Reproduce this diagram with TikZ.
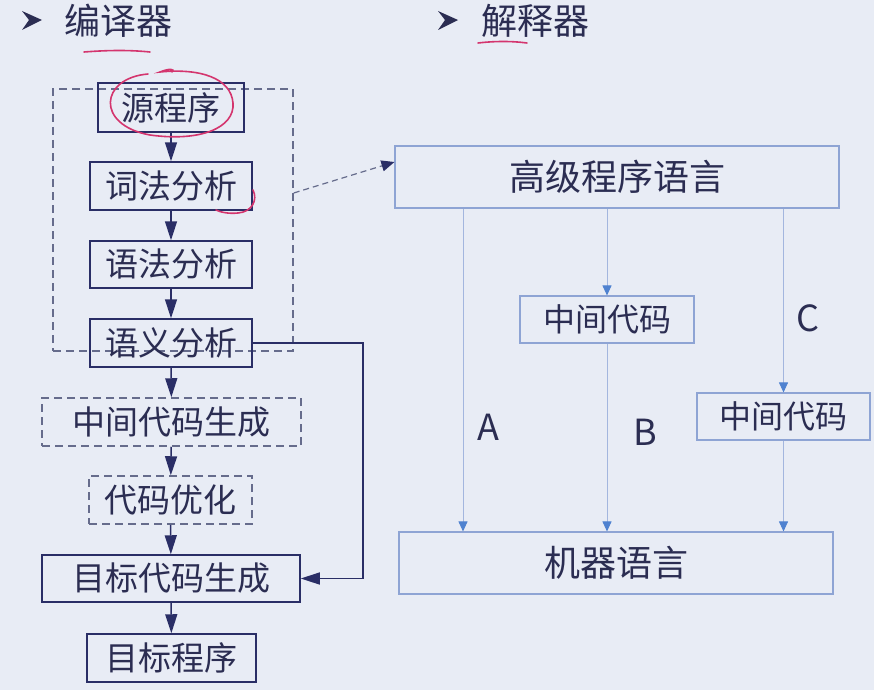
\documentclass[tikz,border=0pt]{standalone}
\usepackage{fontspec}
\setmainfont{Noto Sans CJK SC}
\usetikzlibrary{arrows.meta,calc}
\definecolor{bg}{HTML}{E8ECF5}
\definecolor{navy}{HTML}{2A2E66}
\definecolor{txt}{HTML}{2B2D52}
\definecolor{lbox}{HTML}{8EA4D4}
\definecolor{lline}{HTML}{A3B6DE}
\definecolor{ltip}{HTML}{4F82D0}
\definecolor{dgray}{HTML}{666C8C}
\definecolor{pen}{HTML}{D4356E}
\tikzset{
  navytip/.tip={Triangle[length=19pt,width=12pt]},
  bluetip/.tip={Triangle[length=10pt,width=9pt]}
}
\begin{document}
\begin{tikzpicture}[x=1pt,y=-1pt,
  lbx/.style={draw=navy,line width=1.5pt,text=txt,inner sep=0pt,font=\fontsize{33}{36}\selectfont},
  dbx/.style={lbx,draw=dgray,dash pattern=on 8pt off 5pt},
  rbx/.style={draw=lbox,line width=1.1pt,text=txt,inner sep=0pt},
  larr/.style={draw=navy,fill=navy,line width=1.5pt,-navytip},
  rarr/.style={draw=lline,line width=0.9pt,-{bluetip[fill=ltip,color=ltip]}},
  hdr/.style={text=txt,font=\fontsize{36}{40}\selectfont,inner sep=0pt},
  lbl/.style={text=txt,font=\fontsize{36}{40}\selectfont,inner sep=0pt},
  redpen/.style={draw=pen,line width=1.6pt,line cap=round}]
\fill[bg] (0,0) rectangle (874,690);
\useasboundingbox (0,0) rectangle (874,690);

% headers
\node[hdr,anchor=west] (h1) at (64,21) {编译器};
\node[hdr,anchor=west] (h2) at (481,21) {解释器};
\fill[txt] (22,11) -- (42,20) -- (22,30) -- (29,20) -- cycle;
\fill[txt] (438,11) -- (458,20) -- (438,30) -- (445,20) -- cycle;

% group
\node[draw=dgray,line width=1.4pt,dash pattern=on 8pt off 5pt,minimum width=240pt,minimum height=262pt,inner sep=0pt] (grp) at (173,220) {};

% left chain
\node[lbx,minimum width=146pt,minimum height=49pt] (src) at (171,107.5) {源程序};
\node[lbx,minimum width=162pt,minimum height=48pt] (lex) at (171,186) {词法分析};
\node[lbx,minimum width=162pt,minimum height=47pt] (syn) at (171,264.5) {语法分析};
\node[lbx,minimum width=162pt,minimum height=48pt] (sem) at (171,343) {语义分析};
\node[dbx,minimum width=259pt,minimum height=48pt] (mid) at (171.5,422) {中间代码生成};
\node[dbx,minimum width=163pt,minimum height=48pt] (opt) at (170.5,500) {代码优化};
\node[lbx,minimum width=258pt,minimum height=47pt] (tgt) at (171,578.5) {目标代码生成};
\node[lbx,minimum width=169pt,minimum height=48pt] (prog) at (171.5,658) {目标程序};

\draw[larr] (src) -- (lex);
\draw[larr] (lex) -- (syn);
\draw[larr] (syn) -- (sem);
\draw[larr] (sem) -- (mid);
\draw[larr] (mid) -- (opt);
\draw[larr] (opt) -- (tgt);
\draw[larr] (tgt) -- (prog);
\coordinate (cr) at (363,0);
\draw[draw=navy,line width=1.5pt,-navytip] (sem.east) -- (cr |- sem.east) -- (cr |- tgt.east) -- (tgt.east);

% right side
\node[rbx,minimum width=444pt,minimum height=62pt,font=\fontsize{36}{40}\selectfont] (hll) at (617,177) {高级程序语言};
\node[rbx,minimum width=174pt,minimum height=47pt,font=\fontsize{32}{36}\selectfont] (im1) at (607,319.5) {中间代码};
\node[rbx,minimum width=173pt,minimum height=47pt,font=\fontsize{32}{36}\selectfont] (im2) at (783.5,416.5) {中间代码};
\node[rbx,minimum width=434pt,minimum height=62pt,font=\fontsize{36}{40}\selectfont] (ml) at (616,563) {机器语言};

\coordinate (xa) at (463,0);
\draw[rarr] (xa |- hll.south) -- (xa |- ml.north);
\draw[rarr] (im1 |- hll.south) -- (im1.north);
\draw[rarr] (im1.south) -- (im1 |- ml.north);
\draw[rarr] (im2 |- hll.south) -- (im2.north);
\draw[rarr] (im2.south) -- (im2 |- ml.north);

\node[lbl] (la) at (488,427) {A};
\node[lbl] (lb) at (645,432) {B};
\node[lbl] (lc) at (808,318) {C};

% dashed link
\draw[draw=dgray,line width=1.2pt,dash pattern=on 6pt off 4pt,-{Triangle[length=13pt,width=11pt,fill=navy,color=navy]}] ([yshift=27pt]grp.east) -- ([yshift=15pt]hll.west);

% red annotations
\draw[redpen] (84,52) .. controls (110,50) and (130,50) .. (150,52);
\draw[redpen] (478,43) .. controls (495,41) and (512,41) .. (527,43);
\draw[redpen] (148,74) .. controls (100,78) and (95,125) .. (150,135)
  .. controls (200,142) and (235,128) .. (233,103)
  .. controls (231,78) and (200,68) .. (160,72)
  .. controls (170,68) and (175,69) .. (172,72);
\draw[redpen] (253,190) .. controls (258,200) and (252,212) .. (238,213)
  .. controls (228,214) and (220,212) .. (216,210);
\end{tikzpicture}
\end{document}
